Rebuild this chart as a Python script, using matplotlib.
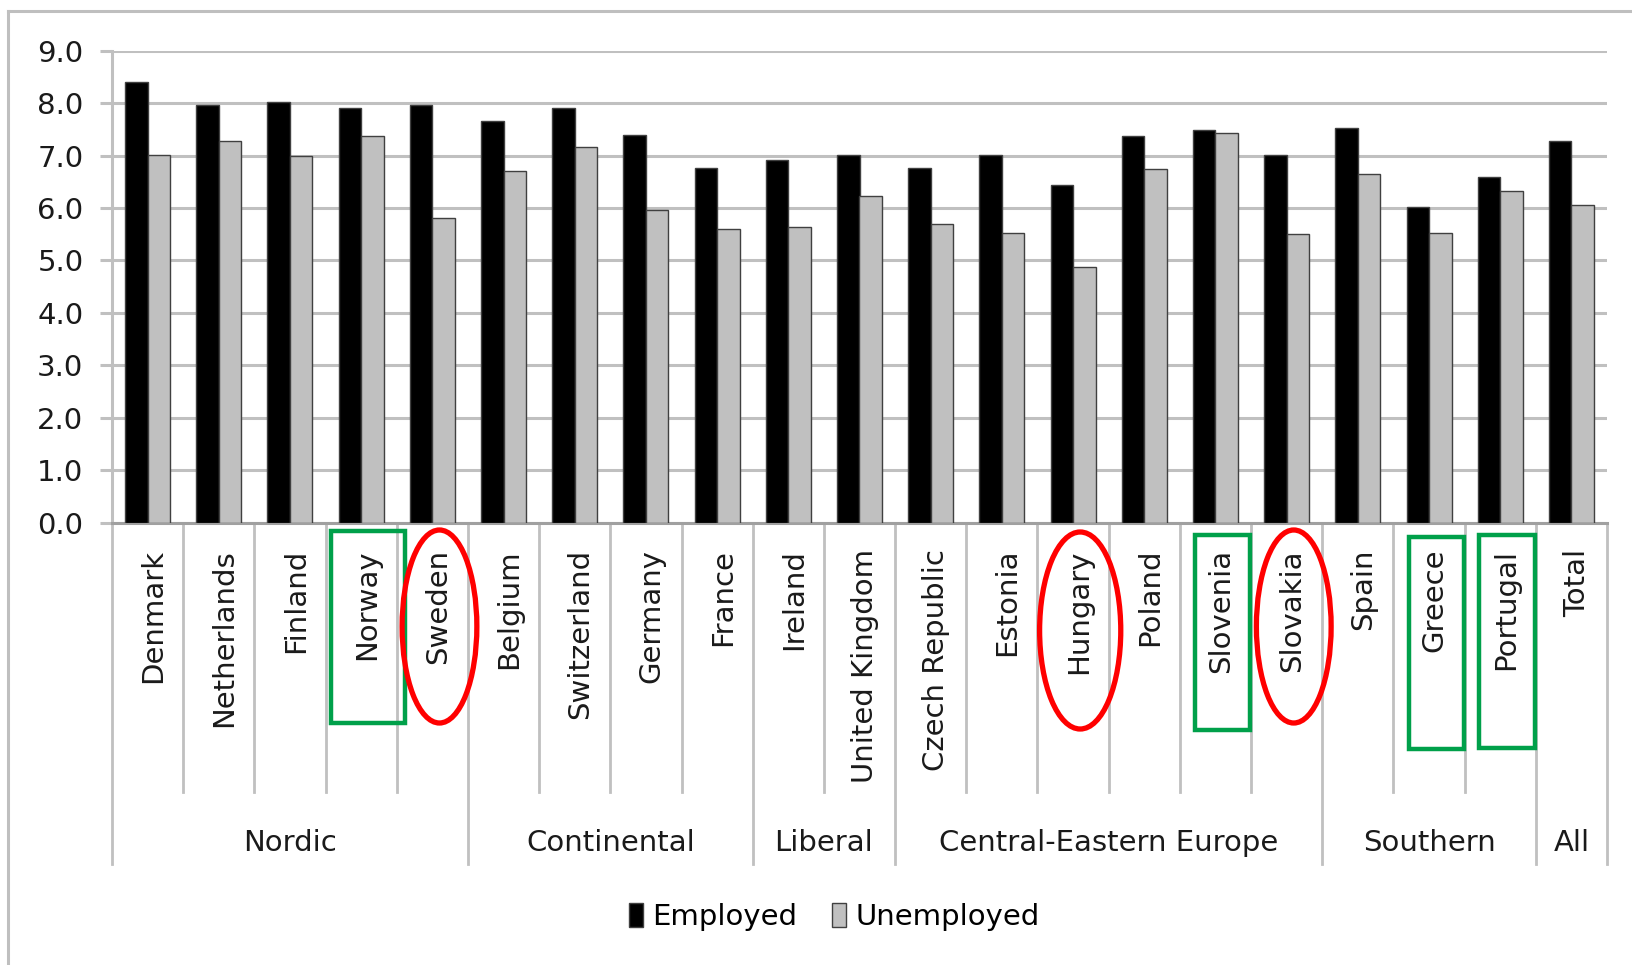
import numpy as np
import matplotlib
matplotlib.use('Agg')
import matplotlib.pyplot as plt
from matplotlib.transforms import blended_transform_factory
from matplotlib.patches import Rectangle, Ellipse, Patch
from matplotlib.lines import Line2D

countries = ['Denmark', 'Netherlands', 'Finland', 'Norway', 'Sweden',
             'Belgium', 'Switzerland', 'Germany', 'France',
             'Ireland', 'United Kingdom',
             'Czech Republic', 'Estonia', 'Hungary', 'Poland', 'Slovenia', 'Slovakia',
             'Spain', 'Greece', 'Portugal', 'Total']
employed = [8.40, 7.96, 8.02, 7.91, 7.96, 7.66, 7.91, 7.40, 6.76, 6.91, 7.02,
            6.76, 7.02, 6.44, 7.38, 7.49, 7.02, 7.53, 6.02, 6.59, 7.28]
unemployed = [7.02, 7.28, 7.00, 7.38, 5.81, 6.71, 7.17, 5.97, 5.60, 5.64, 6.22,
              5.69, 5.53, 4.88, 6.75, 7.44, 5.50, 6.64, 5.53, 6.33, 6.06]
groups = ['Nordic', 'Continental', 'Liberal', 'Central-Eastern Europe', 'Southern', 'All']
group_sizes = [5, 4, 2, 6, 3, 1]

# highlighted countries: (country, width in categories, top px, bottom px)
green_boxes = [('Norway', 1.04, 531, 723), ('Slovenia', 0.78, 535, 730),
               ('Greece', 0.77, 537, 749), ('Portugal', 0.79, 535, 748)]
red_rings = [('Sweden', 1.05, 530, 723), ('Hungary', 1.14, 532, 729),
             ('Slovakia', 1.05, 530, 723)]

W, H = 1633, 965
GRID = '#c0c0c0'

fig = plt.figure(figsize=(W / 100, H / 100), dpi=100, facecolor='white')
ax = fig.add_axes([112 / W, 1 - 522.7 / H, (1607 - 112) / W, (522.7 - 50.7) / H])

x = np.arange(len(countries))
bw = 0.316
ax.bar(x - bw / 2, employed, bw, color='black', edgecolor='#404040', linewidth=1, zorder=3)
ax.bar(x + bw / 2, unemployed, bw, color='#c0c0c0', edgecolor='#404040', linewidth=1, zorder=3)

ax.set_xlim(-0.5, len(countries) - 0.5)
ax.set_ylim(0, 9)
ax.set_yticks(np.arange(0, 10))
ax.set_yticklabels(['%.1f' % v for v in np.arange(0, 10)])
ax.set_xticks([])
ax.yaxis.grid(True, color=GRID, linewidth=2.2)
ax.set_axisbelow(True)
ax.tick_params(axis='y', length=8.6, width=2.2, color=GRID, pad=12, labelsize=21,
               labelcolor='#1a1a1a')
for s in ['top', 'right']:
    ax.spines[s].set_visible(False)
ax.spines['left'].set_color(GRID)
ax.spines['left'].set_linewidth(2.2)
ax.spines['bottom'].set_color('#a0a0a0')
ax.spines['bottom'].set_linewidth(2.2)

trans = blended_transform_factory(ax.transData, fig.transFigure)
y_axis = 1 - 522.7 / H

# category separators
bounds = np.cumsum([0] + group_sizes)
for b in range(len(countries) + 1):
    y_end = 864 if b in bounds else 792
    ax.plot([b - 0.5, b - 0.5], [y_axis, 1 - y_end / H], transform=trans,
            color=GRID, linewidth=2, clip_on=False)

# country labels
for i, name in enumerate(countries):
    ax.text(i + 0.08, 1 - 549 / H, name, transform=trans, rotation=90,
            ha='center', va='top', fontsize=21, color='#1a1a1a')

# group labels
for g, start, size in zip(groups, bounds[:-1], group_sizes):
    ax.text(start - 0.5 + size / 2, 1 - 843 / H, g, transform=trans,
            ha='center', va='center', fontsize=21, color='#1a1a1a')

# highlight marks
for name, w, y1, y2 in green_boxes:
    i = countries.index(name)
    ax.add_patch(Rectangle((i + 0.1 - w / 2, 1 - y2 / H), w, (y2 - y1) / H, transform=trans,
                           fill=False, edgecolor='#00a04a', linewidth=3.2, clip_on=False,
                           zorder=5))
for name, w, y1, y2 in red_rings:
    i = countries.index(name)
    ax.add_patch(Ellipse((i + 0.1, 1 - (y1 + y2) / 2 / H), w, (y2 - y1) / H, transform=trans,
                         fill=False, edgecolor='#ff0000', linewidth=3.8, clip_on=False,
                         zorder=5))

# legend
handles = [Patch(facecolor='black', edgecolor='#404040', label='Employed'),
           Patch(facecolor='#c0c0c0', edgecolor='#404040', label='Unemployed')]
fig.legend(handles=handles, loc='center', bbox_to_anchor=(834 / W, 1 - 917 / H), ncol=2,
           frameon=False, fontsize=21, handlelength=0.5, handleheight=0.9,
           handletextpad=0.3, columnspacing=1.2)

# outer chart frame
fig.add_artist(Line2D([8 / W, 8 / W], [0, 1 - 11 / H], transform=fig.transFigure,
                      color='#bfbfbf', linewidth=2.2))
fig.add_artist(Line2D([8 / W, 1], [1 - 11 / H, 1 - 11 / H], transform=fig.transFigure,
                      color='#bfbfbf', linewidth=2.2))

fig.savefig('out.png', dpi=100, facecolor='white')
